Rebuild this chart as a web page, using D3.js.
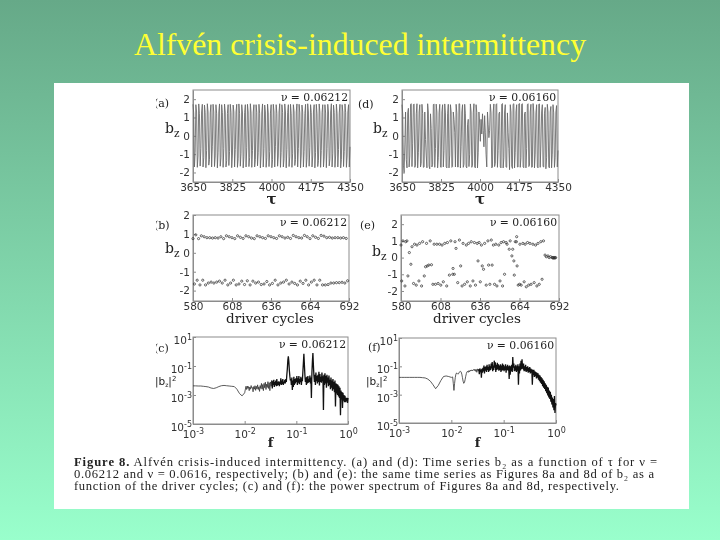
<!DOCTYPE html>
<html><head><meta charset="utf-8">
<script src="https://cdnjs.cloudflare.com/ajax/libs/d3/7.8.5/d3.min.js"></script>
<style>html,body{margin:0;padding:0;background:#fff}svg{display:block}
.ax text{font-family:"DejaVu Sans";font-size:10.5px;fill:#333}
.ax path,.ax line{stroke:#8c8c8c;stroke-width:1}
.soft{filter:blur(.3px)}</style></head><body>
<svg id="s" width="720" height="540"></svg>
<script>
const titleText="Alfvén crisis-induced intermittency";
const captionBold="Figure 8.";
const captionLines=[" Alfvén crisis-induced intermittency. (a) and (d): Time series b\u2082 as a function of τ for ν =",
"0.06212 and ν = 0.0616, respectively; (b) and (e): the same time series as Figures 8a and 8d of b\u2082 as a",
"function of the driver cycles; (c) and (f): the power spectrum of Figures 8a and 8d, respectively."];
const timeTicks=[3650,3825,4000,4175,4350];
const cycleTicks=[580,608,636,664,692];
const bzTicks=[-2,-1,0,1,2];
const freqTicks=[1e-3,1e-2,1e-1,1];
const powerTicks=[1e-5,1e-3,1e-1,1e1];
const seriesA=[1.72,1.25,-1.7,-.9,1.7,1.3,-1.72,-1.1,1.74,1.2,-1.65,-.7,1.3,1.72,-1.7,-1.2,1.68,1.28,-1.74,-.8,1.75,1.3,-1.6,-1.3,1.25,1.7,-1.7,-.6,1.72,1.3,-1.68,-1.1,1.7,1.2,-1.75,-.9,1.3,1.74,-1.66,-1.2,1.7,1.26,-1.72,-.7,1.73,1.3,-1.7,-1.35,1.22,1.7,-1.62,-.85,1.72,1.28,-1.74,-1.05,1.68,1.3,-1.7,-.75,1.3,1.72,-1.72,-1.25,1.74,1.2,-1.66,-.95,1.7,1.3,-1.75,-1.15,1.26,1.7,-1.7,-.65,1.72,1.3,-1.68,-1.2,1.75,1.24,-1.72,-.8,1.3,1.7,-1.7,-1.3,1.7,1.28,-1.64,-.9,1.72,1.2,-1.75,-1.05,1.3,1.74,-1.7,-.7,1.68,1.3,-1.72,-1.2,1.73,1.25,-1.68,-.85,1.24,1.7,-1.74,-1.3,1.72,1.3,-1.7,-.6,1.7,1.22,-1.66,-1.1,1.3,1.75,-1.72,-.9,1.7,1.28,-1.7,-1.25,1.74,1.3,-1.75,-.75,1.26,1.7,-1.68,-1.15,1.72,1.2,-1.72,-.95,1.7,1.3,-1.62,-1.3,1.3,1.74,-1.7,-.7,1.72,1.25,-1.74,-1.05,1.68,1.3,-1.7,-.85,1.22,1.72,-1.72,-1.2,1.75,1.3,-1.66,-.65,1.7,1.26,-1.7,-1.1,1.3,1.7,-1.75,-.9,1.72,1.2,-1.68,-1.35,1.74,1.3,-1.72,-.8,1.28,1.7,-1.7,-1.15,1.7,1.24,-1.74,-.7,1.72,1.3,-1.64,-1.25,1.3,1.75,-1.7,-.95,1.68,1.28,-1.72,-1.05,1.73,1.2,-1.7,-.75,1.25,1.72,-1.75,-1.3,1.7,1.3,-1.68,-.85,1.74,1.26,-1.72,-1.1,1.3,1.7,-1.7,-.6];
const seriesD=[1.7,1.2,-1.6,-2.0,-.5,1.3,-1.3,-1.75,1.25,1.5,-1.7,-1.1,1.72,1.75,-1.68,-.4,1.7,1.74,-1.72,-1.6,1.2,1.75,-1.75,-.9,1.3,1.7,-1.7,-1.5,1.72,1.2,-1.72,-1.7,1.3,-.2,-1.1,-1.75,1.75,1.3,-1.65,-1.8,1.2,.4,-1.7,-1.55,1.7,1.74,-1.72,-.7,1.73,1.3,-1.75,-1.2,1.25,1.72,-1.7,-1.72,1.3,1.7,-1.7,-.8,1.74,1.25,-1.68,-1.75,1.2,1.72,-1.75,-1.05,1.7,1.3,-1.72,-1.68,1.3,.9,.2,-1.7,1.72,1.25,-1.7,-1.7,1.75,1.74,-1.75,-.6,1.3,1.7,-1.72,-1.55,1.72,1.2,-1.7,-1.75,.6,.9,-1.68,-1.0,1.74,1.3,-1.72,-1.6,1.25,1.75,-1.7,-1.75,1.7,1.28,-1.75,-.9,1.3,.7,-.3,.9,.1,1.2,.3,-.6,1.1,.2,-1.0,-1.7,1.3,.6,-.1,.3,1.72,1.25,-1.75,-1.7,1.3,1.74,-1.68,-1.5,1.7,1.75,-1.72,-.8,1.2,1.3,-1.7,-1.75,1.72,1.76,-1.75,-1.2,1.3,1.7,-1.7,-1.72,1.25,.2,-.7,-1.85,1.7,1.3,-1.65,-1.78,1.72,1.75,-1.75,-.9,1.3,1.7,-1.7,-1.7,1.74,1.76,-1.72,-1.2,1.72,1.75,-1.7,-1.74,1.2,1.3,-1.75,-.7,1.7,1.75,-1.68,-1.6,1.3,1.72,-1.72,-1.7,1.76,1.3,-1.75,-1.0,1.25,1.7,-1.7,-1.75,1.72,1.74,-1.72,-.5,1.3,1.7,-1.68,-1.7,1.2,1.55,-1.8,-1.2,1.72,1.3,-1.7,-1.75,1.3,1.6,-1.75,-1.0,1.7,1.25,-1.72,-1.2,1.3,1.65,-1.7,-.8];
const cyclesB=[580,581,582,583,584,585,586,587,588,589,590,591,592,593,594,595,596,597,598,599,600,601,602,603,604,605,606,607,608,609,610,611,612,613,614,615,616,617,618,619,620,621,622,623,624,625,626,627,628,629,630,631,632,633,634,635,636,637,638,639,640,641,642,643,644,645,646,647,648,649,650,651,652,653,654,655,656,657,658,659,660,661,662,663,664,665,666,667,668,669,670,671,672,673,674,675,676,677,678,679,680,681,682,683,684,685,686,687,688,689,690,691];
const seriesB=[.75,-1.65,.95,-1.45,.75,-1.7,.9,-1.45,.85,-1.7,.8,-1.6,.8,-1.55,.78,-1.6,.8,-1.55,.78,-1.5,.85,-1.6,.75,-1.45,.9,-1.7,.85,-1.6,.8,-1.45,.75,-1.7,.9,-1.65,.82,-1.5,.76,-1.68,.9,-1.48,.85,-1.7,.78,-1.5,.75,-1.6,.9,-1.55,.85,-1.68,.8,-1.65,.76,-1.52,.9,-1.7,.85,-1.62,.8,-1.45,.76,-1.7,.9,-1.6,.85,-1.55,.78,-1.45,.82,-1.65,.76,-1.55,.92,-1.62,.85,-1.7,.8,-1.5,.78,-1.62,.92,-1.45,.85,-1.7,.75,-1.55,.9,-1.45,.82,-1.7,.76,-1.45,.92,-1.7,.88,-1.7,.8,-1.68,.82,-1.6,.78,-1.6,.8,-1.58,.8,-1.58,.78,-1.56,.8,-1.6,.76,-1.48];
const cyclesE=[580,580.5,581.4,582.8,583.3,584.2,584.9,585.9,587,587.8,588.9,589.6,590.8,591.3,592.7,593.2,594.6,595.3,596.5,597.4,598.1,598.6,599.7,600.7,601.6,602.6,603.5,604.4,605.4,606.3,607.3,608.2,609.1,610,611,612.4,612.9,614.3,615.3,616.7,616.9,617.8,618.3,619,620.2,621.4,622.3,623.3,624,625.1,626.3,627,627.9,629.1,629.8,631,632,632.8,634,634.6,635.4,636.2,637,637.6,638.5,639.3,640.4,641.6,642.1,643,644,644.6,645.5,646.3,647.2,648,649.3,650.2,651,652,652.7,653.4,654.5,655.2,656.7,657.4,658.6,659.2,660,660.3,661,661.8,662,662.3,663.1,664.1,664.3,665.2,666.4,667.3,668,668.8,669.7,670.5,671.4,672.2,673.5,674.4,675.4,676.3,677.1,678,679.1,680,681,682.1,683,684.2,685,686.1,687.2,687.6,688,688.4,688.8,689.2,689.6,690,690.4,690.8,691.2,691.6];
const seriesE=[.75,-1.4,1.0,-1.7,.95,1.0,-1.1,.3,-.4,.65,-1.55,.8,-1.65,.75,-1.4,.85,-1.7,.95,-1.1,-.55,.85,-.5,-.45,1.0,-.43,-1.6,.8,-1.6,.8,-1.55,.8,-1.65,.75,-1.45,.85,-1.7,.9,-1.05,1.0,-1.0,-.65,-1.0,.95,.55,-1.5,1.05,-.5,-1.7,.85,-1.6,.75,-1.45,.85,-1.7,.95,-1.4,.9,-1.65,.85,-.2,.9,-1.45,.75,-.5,-.7,.85,-1.65,1.0,-.45,-1.6,1.05,-.45,.75,-1.6,.8,-1.7,.75,-1.4,.9,-1.7,.95,-1.0,.9,.8,.5,1.0,.1,.5,-.2,-1.05,.95,.95,1.25,-.5,-1.65,-1.6,.8,-1.65,.85,-1.45,.8,-1.75,.9,-1.65,.85,-1.6,.8,-1.5,.75,-1.7,.85,-1.6,.95,-1.3,1.0,.15,.05,.1,0,.05,0,-.02,0,-.03,0,-.02,0];
const lowFreqC=[-2.37,-2.37,-2.38,-2.38,-2.4,-2.42,-2.45,-2.52,-2.55,-2.5,-2.42,-2.36,-2.34,-2.36,-2.38,-2.4,-2.42,-2.6,-2.9,-3.06,-2.85];
const midFreqC=[-2.4,-2.62,-2.38,-2.55,-2.42,-2.7,-2.45,-2.6,-2.35,-2.52,-2.48,-2.78,-2.42,-2.6,-2.36,-2.68,-2.4,-2.58,-2.3,-2.62,-2.44,-2.75,-2.35,-2.55,-2.2,-2.6,-2.28,-2.7,-2.2,-2.5,-2.12,-2.62,-2.25,-2.48,-2.08,-2.55,-2.15,-2.7,-2.1,-2.4];
const highFreqC=[-2.0,-2.55,-2.05,-2.3,-1.95,-2.45,-2.1,-2.3,-2.0,-2.4,-1.9,-2.35,-2.1,-2.3,-2.05,-2.4,-2.1,-2.25,-1.85,-2.3,-2.0,-2.25,-1.9,-2.3,-2.1,-2.2,-1.95,-2.2,-1.9,-2.1,-1.6,-1.2,-.6,-.34,-.7,-1.3,-1.7,-2.0,-1.9,-2.3,-1.8,-2.65,-2.0,-2.45,-1.75,-2.3,-1.9,-2.2,-1.85,-2.1,-1.7,-2.3,-1.85,-2.15,-1.7,-2.25,-1.9,-2.1,-1.75,-2.3,-1.85,-2.05,-1.4,-.8,-.15,-.9,-1.6,-2.1,-1.8,-2.3,-1.75,-2.2,-1.7,-2.15,-1.9,-2.1,-1.65,-2.2,-1.8,-3.2,-1.5,-.7,-.1,-.95,-1.65,-2.1,-1.6,-2.3,-1.45,-2.05,-1.7,-2.2,-1.6,-2.1,-1.4,-2.35,-1.55,-2.1,-1.75,-2.15,-1.45,-2.05,-1.7,-4.03,-1.6,-2.3,-1.5,-2.2,-1.7,-2.5,-1.6,-2.15,-1.8,-2.4,-1.65,-2.3,-1.95,-2.6,-1.8,-2.5,-2.0,-2.7,-1.9,-2.6,-2.1,-2.8,-2.0,-3.8,-2.2,-2.9,-2.25,-3.0,-2.3,-3.1,-2.4,-3.2,-2.5,-4.4,-2.7,-3.3,-2.8,-3.9,-2.85,-3.4,-3.0,-3.5,-3.05,-3.5,-3.2,-3.45,-3.2,-3.55,-3.2];
const lowFreqF=[-1.78,-1.78,-1.78,-1.78,-1.78,-1.78,-1.78,-1.78,-1.78,-1.8,-1.82,-1.9,-2.05,-2.3,-2.58,-2.35,-2.0,-1.72,-1.68,-1.72,-1.78];
const midFreqF=[-1.75,-2.2,-2.7,-2.2,-1.8,-1.55,-1.47,-1.5,-1.55,-1.52,-1.42,-1.38,-1.35,-1.4,-1.55,-1.8,-2.05,-2.2,-2.15,-1.95,-1.7,-1.5,-1.38,-1.36,-1.42,-1.3,-1.38,-1.28,-1.33,-1.25,-1.32,-1.26,-1.23,-1.3,-1.2,-1.35,-1.22,-1.42,-1.18,-1.32];
const highFreqF=[-1.2,-1.55,-1.15,-1.4,-1.22,-1.8,-1.18,-1.45,-1.1,-1.35,-.95,-1.5,-1.05,-1.3,-1.0,-1.4,-.9,-1.25,-1.05,-1.4,-.85,-1.3,-1.0,-1.25,-.8,-1.15,-.7,-1.35,-.95,-1.25,-.6,-1.1,-.72,-1.4,-.9,-1.25,-.75,-1.2,-.85,-1.3,-.95,-1.25,-.85,-1.4,-.95,-1.3,-.8,-1.25,-.9,-1.35,-1.0,-1.25,-.85,-1.45,-1.0,-1.25,-.9,-1.3,-1.0,-1.9,-.95,-1.6,-1.0,-1.35,-.9,-1.4,-.34,-1.1,-.8,-1.35,-1.0,-1.3,-.9,-1.4,-1.0,-1.3,-.85,-2.3,-1.0,-1.5,-.8,-1.3,-.6,-1.2,-.5,-1.1,-1.15,-.8,-1.35,-1.0,-1.3,-.9,-1.4,-1.05,-1.35,-1.0,-1.45,-1.1,-1.4,-1.05,-1.5,-1.15,-1.45,-1.2,-2.3,-1.25,-1.6,-1.25,-1.75,-1.35,-1.7,-1.4,-1.85,-1.45,-1.8,-1.5,-1.95,-1.6,-2.05,-1.65,-2.15,-1.75,-2.25,-1.85,-2.4,-1.95,-2.5,-2.05,-2.6,-2.2,-2.75,-2.3,-2.9,-2.45,-3.05,-2.5,-3.2,-2.7,-3.3,-2.8,-3.5,-3.0,-3.7,-3.2,-3.9,-3.3,-4.1,-3.1,-4.3,-3.6,-3.75];
const logFreqLow=d3.range(21).map(i=>-3+i*0.05);
const logFreqMid=d3.range(40).map(i=>-1.975+i*0.0125);

const svg=d3.select("#s");
const g=svg.append("defs").append("linearGradient").attr("id","bg").attr("x1",0).attr("y1",0).attr("x2",0).attr("y2",1);
g.append("stop").attr("offset","0%").attr("stop-color","#66a988");
g.append("stop").attr("offset","100%").attr("stop-color","#99ffcc");
svg.select("defs").append("clipPath").attr("id","lbl").append("rect").attr("x",156).attr("y",80).attr("width",60).attr("height",300);
svg.append("rect").attr("width",720).attr("height",540).attr("fill","url(#bg)");
svg.append("rect").attr("x",54).attr("y",83).attr("width",635).attr("height",426).attr("fill","#fff");
svg.append("text").attr("x",360).attr("y",55).attr("text-anchor","middle")
  .style("font-family","Liberation Serif").style("font-size","31.8px").attr("fill","#ffff33").text(titleText);

const root=svg.append("g").attr("class","soft");
function panel(o){
  const p=root.append("g");
  const x=(o.log?d3.scaleLog():d3.scaleLinear()).domain(o.xd).range([o.l,o.r]);
  const y=(o.log?d3.scaleLog():d3.scaleLinear()).domain(o.yd).range([o.b,o.t]);
  const xa=p.append("g").attr("class","ax").attr("transform",`translate(0,${o.b})`)
    .call(d3.axisBottom(x).tickValues(o.xt).tickSize(-3).tickPadding(o.log?7:2).tickSizeOuter(0).tickFormat(d=>o.log?"10":String(d)));
  const ya=p.append("g").attr("class","ax").attr("transform",`translate(${o.l},0)`)
    .call(d3.axisLeft(y).tickValues(o.yt).tickSize(-3).tickPadding(o.log?1:3).tickSizeOuter(0).tickFormat(d=>o.log?"10":String(d)));
  if(o.log){
    const sup=(sel)=>sel.selectAll(".tick text").each(function(d){
      d3.select(this).append("tspan").attr("dy","-.55em").style("font-size","8px").text(String(Math.round(Math.log10(d))));});
    sup(xa);sup(ya);
    ya.selectAll(".tick text").attr("dy",".62em");
  }
  p.append("rect").attr("x",o.l).attr("y",o.t).attr("width",o.r-o.l).attr("height",o.b-o.t)
    .attr("fill","none").attr("stroke","#8c8c8c");
  o.draw(p,x,y);
  p.append("text").attr("x",o.r-2).attr("y",o.t+11).attr("text-anchor","end")
    .style("font-family","DejaVu Serif").style("font-size","10.8px").attr("fill","#222").text(o.nu);
  const lb=p.append("text").attr("x",o.lx).attr("y",o.ly).style("font-family","DejaVu Serif").style("font-size","11px").attr("fill","#222").text(o.tag);
  if(o.clip)lb.attr("clip-path","url(#lbl)");
  if(o.xlabel){p.append("text").attr("x",(o.l+o.r)/2+o.xdx).attr("y",o.xly).attr("text-anchor","middle")
    .style("font-family","DejaVu Serif").style("font-size",o.xfs).style("font-weight",o.xw).attr("fill","#222").text(o.xlabel);}
  if(o.log){
    const t=p.append("text").attr("x",o.bzx).attr("y",o.bzy).style("font-family","DejaVu Sans").style("font-size","10.5px").attr("fill","#222");
    t.append("tspan").text("|b");
    t.append("tspan").attr("dy",2).style("font-size","6px").text("z");
    t.append("tspan").attr("dy",-2).text("|");
    t.append("tspan").attr("dy",-4).style("font-size","7px").text("2");
  }else{
    const t=p.append("text").attr("x",o.bzx).attr("y",o.bzy).style("font-family","DejaVu Serif").style("font-size","14px").attr("fill","#222");
    t.append("tspan").text("b");
    t.append("tspan").attr("dy",4).style("font-size","10.5px").text("z");
  }
}
const lineSeries=(vals,w,col)=>(p,x,y)=>{
  const step=700/(vals.length-1);
  p.append("path").datum(vals).attr("fill","none").attr("stroke",col).attr("stroke-width",w).attr("stroke-linejoin","round")
    .attr("d",d3.line().x((d,i)=>x(3650+i*step)).y(d=>y(d)));
};
const dots=(xs,vals)=>(p,x,y)=>{
  const n=Math.min(xs.length,vals.length);
  p.selectAll("circle").data(vals.slice(0,n)).join("circle").attr("cx",(d,i)=>x(xs[i])).attr("cy",d=>y(d))
    .attr("r",1.1).attr("fill","none").attr("stroke","#333").attr("stroke-width",.75);
};
const spectrum=(lows,mids,highs)=>(p,x,y)=>{
  const line=d3.line().x(d=>x(Math.pow(10,d[0]))).y(d=>y(Math.pow(10,d[1])));
  const lowPts=lows.map((v,i)=>[logFreqLow[i],v]).concat(mids.map((v,i)=>[logFreqMid[i],v]));
  const highPts=highs.map((v,i)=>[-1.475+i*1.475/(highs.length-1),v]);
  p.append("path").datum(lowPts.concat(highPts.slice(0,1))).attr("fill","none").attr("stroke","#333").attr("stroke-width",.8).attr("d",line);
  p.append("path").datum(highPts).attr("fill","none").attr("stroke","#111").attr("stroke-width",1.3).attr("d",line);
};
panel({l:193,r:350,t:90,b:182,xd:[3650,4350],yd:[-2.52,2.5],xt:timeTicks,yt:bzTicks,nu:"ν = 0.06212",tag:"(a)",lx:154,ly:107,clip:true,
  xlabel:"τ",xdx:0,xly:204,xfs:"15px",xw:"bold",bzx:165,bzy:133,draw:lineSeries(seriesA,.85,"#666")});
panel({l:402,r:558,t:90,b:182,xd:[3650,4350],yd:[-2.52,2.5],xt:timeTicks,yt:bzTicks,nu:"ν = 0.06160",tag:"(d)",lx:358,ly:108,
  xlabel:"τ",xdx:0,xly:204,xfs:"15px",xw:"bold",bzx:373,bzy:133,draw:lineSeries(seriesD,.85,"#666")});
panel({l:193,r:349,t:215,b:301,xd:[580,692],yd:[-2.55,2],xt:cycleTicks,yt:bzTicks,nu:"ν = 0.06212",tag:"(b)",lx:154,ly:229,clip:true,
  xlabel:"driver cycles",xdx:-1,xly:323,xfs:"13.5px",xw:"normal",bzx:165,bzy:253,draw:dots(cyclesB,seriesB)});
panel({l:401,r:559,t:215,b:301,xd:[580,692],yd:[-2.6,2.55],xt:cycleTicks,yt:bzTicks,nu:"ν = 0.06160",tag:"(e)",lx:360,ly:229,
  xlabel:"driver cycles",xdx:-3,xly:323,xfs:"13.5px",xw:"normal",bzx:372,bzy:256,draw:dots(cyclesE,seriesE)});
panel({l:193,r:348,t:337,b:424,log:true,xd:[1e-3,1],yd:[1e-5,1e1],xt:freqTicks,yt:powerTicks,nu:"ν = 0.06212",tag:"(c)",lx:154,ly:352,clip:true,
  xlabel:"f",xdx:0,xly:447,xfs:"13px",xw:"bold",bzx:155,bzy:385,draw:spectrum(lowFreqC,midFreqC,highFreqC)});
panel({l:399,r:556,t:338,b:423,log:true,xd:[1e-3,1],yd:[1e-5,1e1],xt:freqTicks,yt:powerTicks,nu:"ν = 0.06160",tag:"(f)",lx:368,ly:351,
  xlabel:"f",xdx:0,xly:447,xfs:"13px",xw:"bold",bzx:366,bzy:385,draw:spectrum(lowFreqF,midFreqF,highFreqF)});

const cap=root.append("g").style("font-family","Liberation Serif").style("font-size","12.6px").attr("fill","#222");
[465.5,477.5,489.5].forEach((yy,i)=>{
  const t=cap.append("text").attr("x",74).attr("y",yy).attr("textLength",[583,580,545][i]).attr("lengthAdjust","spacing");
  if(i===0){t.append("tspan").style("font-weight","bold").text(captionBold);t.append("tspan").text("   "+captionLines[0].trim());}
  else t.text(captionLines[i]);
});
</script></body></html>
